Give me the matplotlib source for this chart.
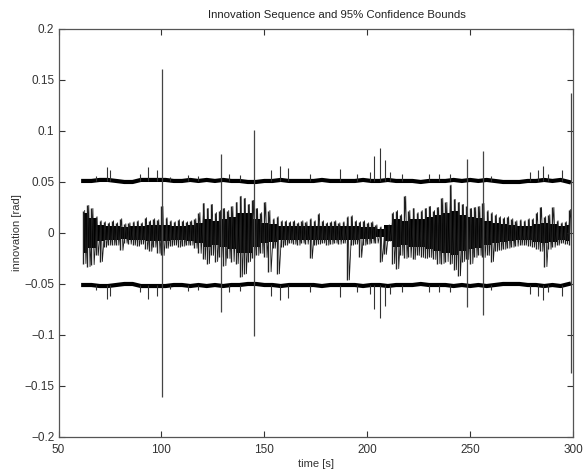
import numpy as np
import matplotlib
matplotlib.use('Agg')
import matplotlib.pyplot as plt

plt.rcParams['font.family'] = ['Liberation Sans', 'DejaVu Sans']

# innovation envelope, one bin every 2 s from 62 s to 298 s
inn_t = np.arange(62, 299, 2)
inn_hi = [0.022, 0.027, 0.024, 0.016,
          0.012, 0.011, 0.010, 0.012,
          0.010, 0.014, 0.009, 0.010, 0.011, 0.012, 0.010, 0.015, 0.012, 0.014, 0.013,
          0.026, 0.015, 0.012, 0.011, 0.013, 0.012, 0.011, 0.012, 0.014, 0.020,
          0.029, 0.024, 0.028, 0.020, 0.022,
          0.024, 0.022, 0.026, 0.030, 0.036, 0.034, 0.028, 0.032, 0.024, 0.020, 0.030,
          0.022, 0.014, 0.016, 0.012, 0.012,
          0.011, 0.012, 0.010, 0.012, 0.011, 0.014, 0.012, 0.019, 0.012, 0.010, 0.011, 0.012, 0.010, 0.011,
          0.016, 0.017, 0.012, 0.011, 0.012, 0.010, 0.011, 0.008,
          0.006, 0.005, 0.008,
          0.020, 0.022, 0.018, 0.036, 0.022,
          0.024, 0.020, 0.022, 0.024, 0.026, 0.022, 0.025, 0.034, 0.030, 0.047,
          0.033, 0.030, 0.028, 0.026, 0.024, 0.025, 0.026, 0.029, 0.022,
          0.020, 0.018, 0.016, 0.015, 0.016, 0.014, 0.012, 0.013, 0.012, 0.014,
          0.014, 0.020, 0.025, 0.016, 0.018, 0.025, 0.012, 0.010, 0.011, 0.023]
inn_lo = [-0.030, -0.033, -0.031, -0.022,
          -0.028, -0.014, -0.012, -0.012,
          -0.012, -0.017, -0.010, -0.011, -0.012, -0.013, -0.011, -0.016, -0.018, -0.014, -0.020,
          -0.022, -0.015, -0.013, -0.012, -0.014, -0.013, -0.012, -0.012, -0.015, -0.020,
          -0.026, -0.030, -0.022, -0.028, -0.024,
          -0.032, -0.025, -0.028, -0.030, -0.043, -0.040, -0.028, -0.025, -0.022, -0.020, -0.024,
          -0.038, -0.015, -0.040, -0.014, -0.012,
          -0.010, -0.011, -0.012, -0.010, -0.011, -0.025, -0.012, -0.011, -0.010, -0.012, -0.011, -0.010, -0.011, -0.010,
          -0.046, -0.012, -0.011, -0.024, -0.012, -0.011, -0.010, -0.010,
          -0.028, -0.021, -0.008,
          -0.030, -0.035, -0.022, -0.025, -0.024,
          -0.026, -0.022, -0.024, -0.025, -0.024, -0.026, -0.030, -0.030, -0.028, -0.030,
          -0.036, -0.042, -0.028, -0.026, -0.030, -0.024, -0.022, -0.024, -0.022,
          -0.028, -0.018, -0.017, -0.016, -0.015, -0.014, -0.013, -0.012, -0.012, -0.013,
          -0.014, -0.016, -0.018, -0.033, -0.016, -0.014, -0.012, -0.010, -0.011, -0.012]

# half-width of the dense dark core of the innovation, one value every 4 s
core_t = np.arange(62, 299, 4)
core = [0.020, 0.015, 0.008, 0.007, 0.007, 0.006, 0.007, 0.007, 0.008, 0.008,
        0.008, 0.007, 0.007, 0.008, 0.010, 0.014, 0.012, 0.014, 0.016, 0.020,
        0.020, 0.014, 0.010, 0.009, 0.007, 0.007, 0.007, 0.007, 0.007, 0.007,
        0.007, 0.007, 0.007, 0.007, 0.006, 0.006, 0.004, 0.008, 0.014, 0.012,
        0.014, 0.014, 0.016, 0.018, 0.020, 0.022, 0.018, 0.016, 0.015, 0.012,
        0.010, 0.009, 0.008, 0.007, 0.007, 0.009, 0.010, 0.009, 0.007, 0.008]

# 95% bound (upper; lower is the mirror), one value every 4 s
bnd_t = np.arange(62, 299, 4)
bnd = [0.051, 0.051, 0.052, 0.052, 0.051, 0.050, 0.050, 0.052, 0.052, 0.052,
       0.052, 0.051, 0.051, 0.052, 0.051, 0.052, 0.051, 0.052, 0.051, 0.051,
       0.050, 0.050, 0.051, 0.051, 0.052, 0.051, 0.051, 0.051, 0.051, 0.052,
       0.051, 0.051, 0.051, 0.051, 0.052, 0.051, 0.051, 0.052, 0.051, 0.051,
       0.051, 0.050, 0.051, 0.051, 0.051, 0.052, 0.051, 0.052, 0.051, 0.052,
       0.051, 0.050, 0.050, 0.050, 0.051, 0.051, 0.052, 0.051, 0.052, 0.050]

# spikes of the bound
spike_t = [68, 73.6, 74.8, 89.5, 93.6, 97.7, 104, 113, 118, 133, 138, 153.4, 157.5,
           161.5, 172, 186.7, 195, 201.3, 203.5, 206.4, 208.5, 211, 217, 230, 235,
           240, 260, 279, 283, 285.5, 288, 294.5]
spike_v = [0.056, 0.065, 0.062, 0.058, 0.065, 0.062, 0.055, 0.057, 0.056, 0.058, 0.057,
           0.062, 0.066, 0.064, 0.058, 0.063, 0.058, 0.060, 0.075, 0.083, 0.072, 0.060,
           0.058, 0.058, 0.058, 0.058, 0.056, 0.060, 0.062, 0.066, 0.058, 0.062]

# big spikes running through the whole plot
big_t = [100.5, 128.8, 145.2, 248.3, 256.4, 299.2]
big_v = [0.161, 0.077, 0.101, 0.073, 0.080, 0.137]

fig = plt.figure(figsize=(5.87, 4.72), dpi=100)
ax = fig.add_axes([0.0997, 0.0742, 0.8765, 0.8644])

# innovation: dark core, vertical strokes per bin and a zigzag between max and min
core = np.array(core)
ax.fill_between(core_t, -core, core, step='mid', color='black', lw=0)
ax.vlines(inn_t, inn_lo, inn_hi, color='#222222', lw=1.0)
zx = np.ravel(np.column_stack([inn_t + 0.7, inn_t + 1.3]))
zy = np.ravel(np.column_stack([inn_hi, inn_lo]))
ax.plot(zx, zy, color='#1a1a1a', lw=0.6)

bnd = np.array(bnd)
ax.plot(bnd_t, bnd, color='black', lw=3)
ax.plot(bnd_t, -bnd, color='black', lw=3)
ax.vlines(spike_t, 0.051, spike_v, color='#333333', lw=0.8)
ax.vlines(spike_t, -np.array(spike_v), -0.051, color='#333333', lw=0.8)
ax.vlines(big_t, -np.array(big_v), big_v, color='#444444', lw=0.9)

ax.set_xlim(50, 300)
ax.set_ylim(-0.2, 0.2)
ax.set_xticks([50, 100, 150, 200, 250, 300])
ax.set_yticks([-0.2, -0.15, -0.1, -0.05, 0, 0.05, 0.1, 0.15, 0.2])
ax.set_yticklabels(['\u22120.2', '\u22120.15', '\u22120.1', '\u22120.05', '0', '0.05', '0.1', '0.15', '0.2'])
ax.tick_params(direction='in', top=True, right=True, length=4, labelsize=8.5,
               colors='#333333')
ax.tick_params(axis='x', pad=5)
ax.tick_params(axis='y', pad=3)
for s in ax.spines.values():
    s.set_color('#555555')
    s.set_linewidth(0.9)

ax.set_title('Innovation Sequence and 95% Confidence Bounds', fontsize=8.2, color='#222222',
             pad=8, x=0.541)
ax.set_xlabel('time [s]', fontsize=8, color='#333333', labelpad=2)
ax.set_ylabel('innovation [rad]', fontsize=8, color='#333333', labelpad=2)

fig.savefig('out.png', dpi=100)
